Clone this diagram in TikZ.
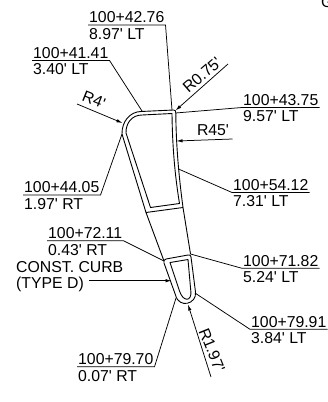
\documentclass[tikz,border=0pt]{standalone}
\usepackage{fontspec}
\usetikzlibrary{arrows.meta}
\newfontfamily\lblfont{Liberation Sans}
\begin{document}
\begin{tikzpicture}[x=1pt, y=-1pt]
		\tikzstyle{every node}=[inner sep=1pt, align=left, font=\lblfont\fontsize{15.8}{17}\selectfont]
		\tikzset{
			curb/.style={line width=0.9pt, line join=round},
			leader/.style={line width=0.75pt},
			pointer/.style={leader, -{Latex[length=6pt, width=3.4pt]}},
			sta/.style={anchor=south west, inner ysep=1.8pt},
			off/.style={anchor=north west, inner ysep=3.2pt}
		}
		\useasboundingbox (0, 0) rectangle (328, 402);
		% points on the curb
		\coordinate (p4276) at (172, 110);
		\coordinate (p4141) at (142, 111);
		\coordinate (p4375) at (175.5, 113);
		\coordinate (p4405) at (122, 134);
		\coordinate (p5412) at (178.5, 169);
		\coordinate (p7211) at (164, 261);
		\coordinate (p7182) at (190.5, 254);
		\coordinate (p7991) at (195, 293);
		\coordinate (p7970) at (176, 298);
		\coordinate (pR75) at (175.5, 110.5);
		\coordinate (pR4) at (122.5, 123);
		\coordinate (pR45) at (176.5, 141);
		\coordinate (pR197) at (188, 304.5);
		\coordinate (pcurb) at (171.5, 280.7);
		% free ends
		\coordinate (eR75) at (228, 64);
		\coordinate (eR4) at (77, 104);
		\coordinate (eR45) at (232.5, 139);
		\coordinate (eR197) at (211, 377);
		% top island
		\draw [curb] (p4405) .. controls (121.7, 121.5) and (130, 111.7) .. (141, 111.5)
			-- (173.5, 110) .. controls (175.5, 110) and (175.8, 111) .. (175.8, 113)
			.. controls (176, 140) and (178, 170) .. (183, 207.5) -- (146, 212.5) -- cycle;
		\draw [curb] (126, 133) .. controls (125.7, 123) and (132, 115) .. (142, 115)
			-- (172, 113.5) .. controls (172.3, 140) and (174, 170) .. (179.5, 203.5)
			-- (150.5, 207.5) -- cycle;
		% edges between the islands
		\draw [curb] (146, 212.5) -- (164, 261);
		\draw [curb] (183, 207.5) -- (190.5, 254);
		% nose
		\draw [curb] (166, 259) -- (188, 255) .. controls (190, 254.7) and (190.6, 255) .. (191, 257)
			-- (195.5, 292) .. controls (197, 304) and (179, 309) .. (175.5, 295)
			-- (164, 263) .. controls (163.5, 261) and (164, 259.5) .. cycle;
		\draw [curb] (170, 262.5) -- (188, 259.5) -- (190.8, 291)
			.. controls (192, 302) and (183, 302) .. (179.5, 291) -- cycle;
		% stations
		\node [sta] (s4276) at (88, 25) {100+42.76};
		\node [off] (o4276) at (88, 25) {8.97' LT};
		\node [sta] (s4141) at (32, 60.5) {100+41.41};
		\node [off] (o4141) at (32, 60.5) {3.40' LT};
		\node [sta] (s4375) at (242, 107.5) {100+43.75};
		\node [off] (o4375) at (242, 107.5) {9.57' LT};
		\node [sta] (s4405) at (23, 195) {100+44.05};
		\node [off] (o4405) at (23, 195) {1.97' RT};
		\node [sta] (s5412) at (232, 192.5) {100+54.12};
		\node [off] (o5412) at (232, 192.5) {7.31' LT};
		\node [sta] (s7211) at (47, 240.7) {100+72.11};
		\node [off] (o7211) at (47, 240.7) {0.43' RT};
		\node [sta] (s7182) at (242, 268.3) {100+71.82};
		\node [off] (o7182) at (242, 268.3) {5.24' LT};
		\node [sta] (s7991) at (250, 329.3) {100+79.91};
		\node [off] (o7991) at (250, 329.3) {3.84' LT};
		\node [sta] (s7970) at (77, 366.7) {100+79.70};
		\node [off] (o7970) at (77, 366.7) {0.07' RT};
		\node [anchor=west] (curbtxt) at (15, 267) {CONST. CURB};
		\node [anchor=west] (typetxt) at (15, 284) {(TYPE D)};
		% radii
		\node [rotate=41] (tR75) at (202, 75) {R0.75'};
		\node [rotate=-22] (tR4) at (94, 100) {R4'};
		\node (tR45) at (213, 130.5) {R45'};
		\node [rotate=-68] (tR197) at (212, 350) {R1.97'};
		\node [anchor=south west] (edgeG) at (320, 8.5) {G};
		% leaders
		\draw [leader] (s4276.south west) -- (s4276.south east) -- (p4276);
		\draw [leader] (s4141.south west) -- (s4141.south east) -- (p4141);
		\draw [leader] (s4375.south east) -- (s4375.south west) -- (p4375);
		\draw [leader] (s4405.south west) -- (s4405.south east) -- (p4405);
		\draw [leader] (s5412.south east) -- (s5412.south west) -- (p5412);
		\draw [leader] (s7211.south west) -- (s7211.south east) -- (p7211);
		\draw [leader] (s7182.south east) -- (s7182.south west) -- (p7182);
		\draw [leader] (s7991.south east) -- (s7991.south west) -- (p7991);
		\draw [leader] (s7970.south west) -- (s7970.south east) -- (p7970);
		\draw [pointer] (eR75) -- (pR75);
		\draw [pointer] (eR4) -- (pR4);
		\draw [pointer] (eR45) -- (pR45);
		\draw [pointer] (eR197) -- (pR197);
		\draw [pointer] (typetxt.east |- pcurb) ++(4, 0) -- (pcurb);
\end{tikzpicture}
\end{document}
